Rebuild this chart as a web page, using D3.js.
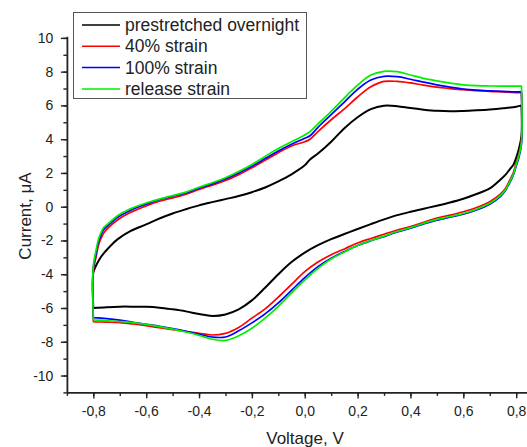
<!DOCTYPE html>
<html>
<head>
<meta charset="utf-8">
<script src="https://cdn.jsdelivr.net/npm/d3@7/dist/d3.min.js"></script>
<style>
  html, body { margin: 0; padding: 0; background: #fff; }
  svg { display: block; }
  .axis text { font-family: "Liberation Sans", Arial, sans-serif; font-size: 14px; fill: #222; }
  .axis path, .axis line { stroke: #222; }
</style>
</head>
<body>
<svg id="chart" width="527" height="447"></svg>
<script>
// Cyclic voltammograms: forward sweep (-0.8 V -> 0.82 V) then reverse sweep back.
const forwardVoltage = [-0.80, -0.80, -0.79, -0.78, -0.77, -0.76, -0.74, -0.71, -0.66, -0.60,
  -0.55, -0.50, -0.45, -0.40, -0.35, -0.30, -0.25, -0.20, -0.15, -0.10,
  -0.05, 0.00, 0.02, 0.05, 0.10, 0.15, 0.20, 0.25, 0.30, 0.35,
  0.40, 0.45, 0.50, 0.55, 0.60, 0.65, 0.70, 0.75, 0.80, 0.82];
const reverseVoltage = [0.82, 0.82, 0.81, 0.80, 0.79, 0.775, 0.76, 0.74, 0.70, 0.65,
  0.60, 0.55, 0.50, 0.45, 0.40, 0.35, 0.30, 0.25, 0.20, 0.15,
  0.10, 0.05, 0.00, -0.05, -0.10, -0.15, -0.20, -0.25, -0.30, -0.35,
  -0.40, -0.45, -0.50, -0.55, -0.60, -0.65, -0.70, -0.75, -0.80];

// Current (µA) on the forward sweep
const prestretchedForward = [-6.0, -3.9, -3.5, -3.2, -2.95, -2.75, -2.4, -1.95, -1.45, -1.05,
  -0.7, -0.4, -0.15, 0.08, 0.27, 0.45, 0.63, 0.86, 1.14, 1.5,
  1.92, 2.45, 2.8, 3.15, 3.85, 4.65, 5.3, 5.78, 5.98, 5.95,
  5.84, 5.75, 5.68, 5.65, 5.67, 5.71, 5.76, 5.83, 5.92, 6.0];
const strain40Forward = [-6.82, -3.8, -3.0, -2.25, -1.85, -1.55, -1.2, -0.8, -0.35, 0.05,
  0.32, 0.52, 0.74, 1.02, 1.28, 1.55, 1.9, 2.3, 2.75, 3.2,
  3.6, 3.85, 4.0, 4.45, 5.15, 5.8, 6.5, 7.1, 7.42, 7.42,
  7.33, 7.2, 7.08, 7.0, 6.93, 6.88, 6.83, 6.8, 6.76, 6.75];
const strain100Forward = [-6.57, -3.6, -2.8, -2.05, -1.65, -1.35, -1.05, -0.65, -0.22, 0.15,
  0.42, 0.62, 0.82, 1.1, 1.35, 1.65, 2.0, 2.4, 2.85, 3.3,
  3.7, 4.05, 4.2, 4.7, 5.45, 6.2, 6.95, 7.5, 7.72, 7.7,
  7.55, 7.38, 7.22, 7.08, 6.97, 6.9, 6.86, 6.83, 6.8, 6.8];
const releaseForward = [-6.7, -3.5, -2.6, -1.9, -1.5, -1.22, -0.95, -0.55, -0.12, 0.22,
  0.45, 0.66, 0.86, 1.15, 1.42, 1.72, 2.08, 2.5, 2.98, 3.45,
  3.85, 4.25, 4.45, 4.9, 5.65, 6.45, 7.2, 7.8, 8.02, 8.0,
  7.8, 7.6, 7.45, 7.32, 7.22, 7.17, 7.15, 7.14, 7.14, 7.14];

// Current (µA) on the reverse sweep
const prestretchedReverse = [6.0, 4.2, 3.4, 2.9, 2.5, 2.2, 1.9, 1.6, 1.08, 0.75,
  0.47, 0.25, 0.06, -0.12, -0.3, -0.5, -0.75, -1.03, -1.32, -1.62,
  -1.92, -2.28, -2.72, -3.28, -4.0, -4.8, -5.55, -6.08, -6.38, -6.47,
  -6.36, -6.2, -6.08, -5.98, -5.93, -5.92, -5.92, -5.95, -6.0];
const strain40Reverse = [6.75, 3.9, 3.1, 2.6, 2.05, 1.55, 1.1, 0.75, 0.3, -0.05,
  -0.3, -0.5, -0.68, -0.92, -1.17, -1.38, -1.63, -1.88, -2.15, -2.5,
  -2.85, -3.28, -3.85, -4.6, -5.35, -6.05, -6.6, -7.15, -7.5, -7.6,
  -7.5, -7.38, -7.28, -7.17, -7.05, -6.95, -6.87, -6.84, -6.82];
const strain100Reverse = [6.8, 3.7, 2.9, 2.4, 1.9, 1.4, 0.98, 0.6, 0.15, -0.2,
  -0.45, -0.62, -0.8, -1.02, -1.27, -1.5, -1.77, -2.02, -2.3, -2.66,
  -3.05, -3.55, -4.2, -4.95, -5.7, -6.35, -6.88, -7.35, -7.72, -7.72,
  -7.55, -7.38, -7.22, -7.08, -6.97, -6.85, -6.72, -6.63, -6.57];
const releaseReverse = [7.14, 3.8, 3.0, 2.5, 1.95, 1.45, 1.02, 0.65, 0.2, -0.15,
  -0.4, -0.58, -0.75, -0.98, -1.24, -1.47, -1.74, -2.0, -2.3, -2.68,
  -3.1, -3.65, -4.35, -5.1, -5.9, -6.6, -7.2, -7.65, -7.92, -7.85,
  -7.62, -7.42, -7.25, -7.1, -6.97, -6.87, -6.8, -6.74, -6.7];

const seriesNames = ["prestretched overnight", "40% strain", "100% strain", "release strain"];
const seriesColors = ["#000000", "#ff0000", "#0000ff", "#00ee00"];
const seriesForward = [prestretchedForward, strain40Forward, strain100Forward, releaseForward];
const seriesReverse = [prestretchedReverse, strain40Reverse, strain100Reverse, releaseReverse];

const xMajorTicks = [-0.8, -0.6, -0.4, -0.2, 0.0, 0.2, 0.4, 0.6, 0.8];
const yMajorTicks = [-10, -8, -6, -4, -2, 0, 2, 4, 6, 8, 10];

const svg = d3.select("#chart");
const font = '"Liberation Sans", Arial, sans-serif';

// Scales: plot frame left edge at -0.9 V, bottom edge at -11 µA
const x = d3.scaleLinear().domain([-0.9, 0.9]).range([66.9, 542.6]);
const y = d3.scaleLinear().domain([-11, 10.1]).range([392.4, 36.2]);

const fmtX = d => d3.format(".1f")(d).replace("−", "-").replace(".", ",");
const fmtY = d => String(d);

// Minor ticks
svg.append("g").attr("class", "axis")
  .attr("transform", `translate(0,${y.range()[0]})`)
  .call(d3.axisBottom(x).tickValues(d3.range(-0.9, 0.95, 0.1).map(v => +v.toFixed(2)))
    .tickSize(3.5).tickSizeOuter(0).tickFormat(""))
  .call(g => g.select(".domain").remove())
  .selectAll("line").attr("stroke-width", 1.4);
svg.append("g").attr("class", "axis")
  .attr("transform", `translate(${x.range()[0]},0)`)
  .call(d3.axisLeft(y).tickValues(d3.range(-11, 11, 1))
    .tickSize(3.5).tickSizeOuter(0).tickFormat(""))
  .call(g => g.select(".domain").remove())
  .selectAll("line").attr("stroke-width", 1.4);

// Major ticks and labels
const xAxis = svg.append("g").attr("class", "axis")
  .attr("transform", `translate(0,${y.range()[0]})`)
  .call(d3.axisBottom(x).tickValues(xMajorTicks).tickSize(6).tickSizeOuter(0)
    .tickPadding(8).tickFormat(fmtX));
xAxis.select(".domain").attr("stroke-width", 1.8);
xAxis.selectAll(".tick line").attr("stroke-width", 1.4);

const yAxis = svg.append("g").attr("class", "axis")
  .attr("transform", `translate(${x.range()[0]},0)`)
  .call(d3.axisLeft(y).tickValues(yMajorTicks).tickSize(6).tickSizeOuter(0)
    .tickPadding(7.5).tickFormat(fmtY));
yAxis.select(".domain").attr("stroke-width", 1.8);
yAxis.selectAll(".tick line").attr("stroke-width", 1.4);

// Axis titles
svg.append("text")
  .attr("x", 305).attr("y", 444)
  .attr("text-anchor", "middle")
  .attr("font-family", font).attr("font-size", 17).attr("fill", "#222")
  .text("Voltage, V");
svg.append("text")
  .attr("transform", "translate(31,216) rotate(-90)")
  .attr("text-anchor", "middle")
  .attr("font-family", font).attr("font-size", 17).attr("fill", "#222")
  .text("Current, μA");

// Voltammogram loops
const line = d3.line()
  .x(d => x(d[0])).y(d => y(d[1]))
  .curve(d3.curveCatmullRom.alpha(0.5));

seriesNames.forEach((name, i) => {
  const pts = forwardVoltage.map((v, k) => [v, seriesForward[i][k]])
    .concat(reverseVoltage.map((v, k) => [v, seriesReverse[i][k]]));
  svg.append("path")
    .datum(pts)
    .attr("fill", "none")
    .attr("stroke", seriesColors[i])
    .attr("stroke-width", i === 0 ? 2 : 1.7)
    .attr("stroke-linejoin", "round")
    .attr("d", line);
});

// Legend
const legend = svg.append("g");
legend.append("rect")
  .attr("x", 73.5).attr("y", 12.5).attr("width", 233).attr("height", 86)
  .attr("fill", "#fff").attr("stroke", "#555").attr("stroke-width", 1);
seriesNames.forEach((name, i) => {
  const cy = 25 + i * 21.3;
  legend.append("line")
    .attr("x1", 82).attr("x2", 120).attr("y1", cy).attr("y2", cy)
    .attr("stroke", seriesColors[i]).attr("stroke-width", 1.5);
  legend.append("text")
    .attr("x", 125).attr("y", cy).attr("dy", "0.35em")
    .attr("font-family", font).attr("font-size", 17.5).attr("fill", "#222")
    .text(name);
});
</script>
</body>
</html>
